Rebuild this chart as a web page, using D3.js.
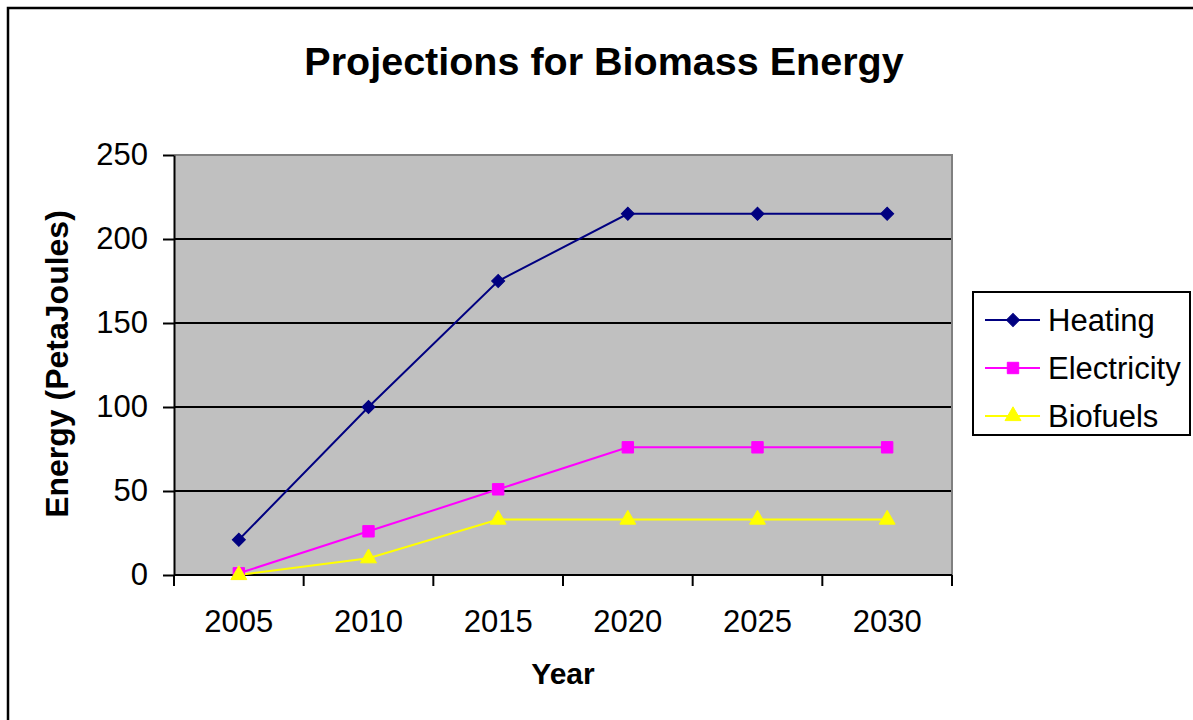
<!DOCTYPE html>
<html>
<head>
<meta charset="utf-8">
<script src="https://cdn.jsdelivr.net/npm/d3@7"></script>
<style>
  html, body { margin: 0; padding: 0; background: #fff; }
  svg { display: block; font-family: "Liberation Sans", Arial, sans-serif; }
</style>
</head>
<body>
<svg id="chart" width="1193" height="720"></svg>
<script>
// Projected biomass energy use by category (PetaJoules)
const years = ["2005", "2010", "2015", "2020", "2025", "2030"];
const heating = [21, 100, 175, 215, 215, 215];
const electricity = [1, 26, 51, 76, 76, 76];
const biofuels = [0, 10, 33, 33, 33, 33];
const yTicks = [0, 50, 100, 150, 200, 250];

const seriesNames = ["Heating", "Electricity", "Biofuels"];
const seriesColors = ["#000080", "#FF00FF", "#FFFF00"];
const seriesShapes = [d3.symbolSquare, d3.symbolSquare, d3.symbolTriangle];
const seriesRotate = [45, 0, 0];
const seriesSizes = [85, 130, 110];
const seriesValues = [heating, electricity, biofuels];

const series = seriesNames.map((name, i) => ({
  name, color: seriesColors[i], shape: seriesShapes[i], size: seriesSizes[i],
  rot: seriesRotate[i], values: seriesValues[i]
}));

const svg = d3.select("#chart");
const W = 1193, H = 720;

// outer chart frame (extends past the right and bottom edges)
svg.append("rect")
  .attr("x", 8).attr("y", 8)
  .attr("width", W + 20).attr("height", H + 20)
  .attr("fill", "#fff").attr("stroke", "#000").attr("stroke-width", 2.5);

const plot = { left: 174, top: 155, right: 952, bottom: 575 };

const x = d3.scaleBand().domain(years).range([plot.left, plot.right]).padding(0);
const y = d3.scaleLinear().domain([0, 250]).range([plot.bottom, plot.top]);

// plot background
svg.append("rect")
  .attr("x", plot.left).attr("y", plot.top)
  .attr("width", plot.right - plot.left).attr("height", plot.bottom - plot.top)
  .attr("fill", "#C0C0C0");

// horizontal gridlines
svg.append("g").selectAll("line")
  .data(yTicks.filter(t => t > 0 && t < 250))
  .join("line")
  .attr("x1", plot.left).attr("x2", plot.right)
  .attr("y1", d => y(d)).attr("y2", d => y(d))
  .attr("stroke", "#000").attr("stroke-width", 2);

// gray top/right plot border
svg.append("path")
  .attr("d", `M${plot.left},${plot.top}H${plot.right}V${plot.bottom}`)
  .attr("fill", "none").attr("stroke", "#808080").attr("stroke-width", 2);

// y axis
const yAxis = d3.axisLeft(y).tickValues(yTicks).tickSize(11).tickPadding(15).tickSizeOuter(0);
const gy = svg.append("g").attr("transform", `translate(${plot.left},0)`).call(yAxis);
gy.select(".domain").attr("stroke", "#000").attr("stroke-width", 2);
gy.selectAll(".tick line").attr("stroke", "#000").attr("stroke-width", 2);
gy.selectAll(".tick text").attr("font-size", 31).attr("fill", "#000")
  .attr("font-family", "'Liberation Sans', Arial, sans-serif");

// x axis: ticks between categories, labels centred in each band
const gx = svg.append("g").attr("transform", `translate(0,${plot.bottom})`);
gx.append("line").attr("x1", plot.left).attr("x2", plot.right)
  .attr("y1", 0).attr("y2", 0).attr("stroke", "#000").attr("stroke-width", 2);
const boundaries = years.map(d => x(d)).concat([x(years[years.length - 1]) + x.bandwidth()]);
gx.selectAll("line.tk").data(boundaries).join("line").attr("class", "tk")
  .attr("x1", d => d).attr("x2", d => d).attr("y1", 0).attr("y2", 11)
  .attr("stroke", "#000").attr("stroke-width", 2);
gx.selectAll("text").data(years).join("text")
  .attr("x", d => x(d) + x.bandwidth() / 2).attr("y", 57)
  .attr("text-anchor", "middle").attr("font-size", 31).text(d => d);

// series lines and markers
const line = d3.line()
  .x((d, i) => x(years[i]) + x.bandwidth() / 2)
  .y(d => y(d));

series.forEach(s => {
  svg.append("path").datum(s.values)
    .attr("d", line).attr("fill", "none")
    .attr("stroke", s.color).attr("stroke-width", 2);
});
series.forEach(s => {
  svg.append("g").selectAll("path").data(s.values).join("path")
    .attr("transform", (d, i) => `translate(${x(years[i]) + x.bandwidth() / 2},${y(d)}) rotate(${s.rot})`)
    .attr("d", d3.symbol().type(s.shape).size(s.size))
    .attr("fill", s.color).attr("stroke", s.color).attr("stroke-width", 1);
});

// title and axis titles
svg.append("text").attr("x", 604).attr("y", 75)
  .attr("text-anchor", "middle").attr("font-size", 39.5).attr("font-weight", "bold")
  .text("Projections for Biomass Energy");
svg.append("text").attr("x", 563).attr("y", 684)
  .attr("text-anchor", "middle").attr("font-size", 30).attr("font-weight", "bold")
  .text("Year");
svg.append("text")
  .attr("transform", "translate(68,364) rotate(-90)")
  .attr("text-anchor", "middle").attr("font-size", 32).attr("font-weight", "bold")
  .text("Energy (PetaJoules)");

// legend
const legend = svg.append("g");
legend.append("rect").attr("x", 973).attr("y", 292).attr("width", 217).attr("height", 143)
  .attr("fill", "#fff").attr("stroke", "#000").attr("stroke-width", 2);
const entry = legend.selectAll("g.entry").data(series).join("g").attr("class", "entry")
  .attr("transform", (d, i) => `translate(0,${320 + i * 48})`);
entry.append("line").attr("x1", 985).attr("x2", 1040).attr("y1", 0).attr("y2", 0)
  .attr("stroke", d => d.color).attr("stroke-width", 2);
entry.append("path").attr("transform", d => `translate(1013,0) rotate(${d.rot})`)
  .attr("d", d => d3.symbol().type(d.shape).size(d.size)())
  .attr("fill", d => d.color).attr("stroke", d => d.color);
entry.append("text").attr("x", 1048).attr("y", 11).attr("font-size", 31)
  .text(d => d.name);
</script>
</body>
</html>
